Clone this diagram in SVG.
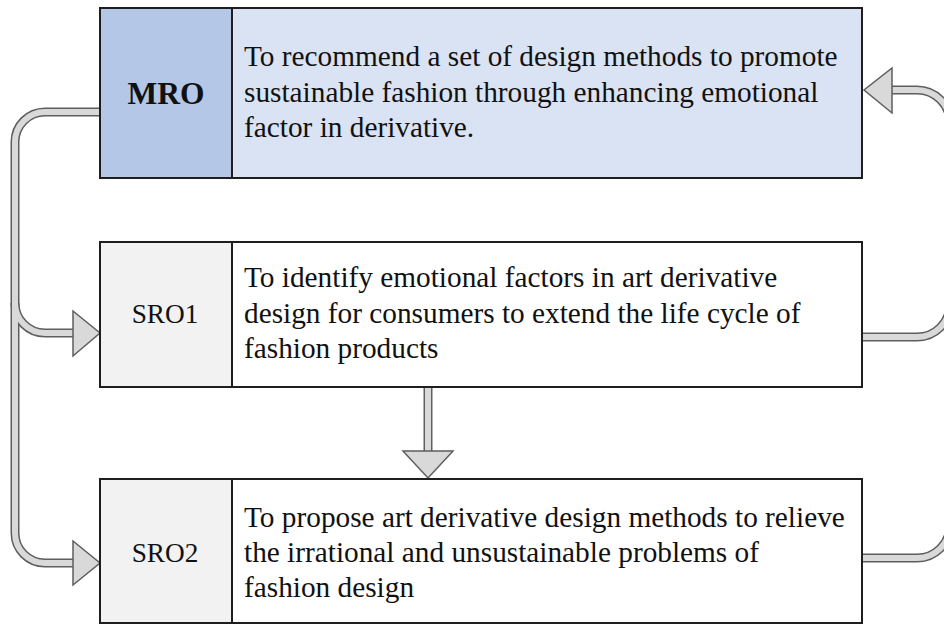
<svg xmlns="http://www.w3.org/2000/svg" width="944" height="624" viewBox="0 0 944 624">
<style>
.box{stroke:#1e1e1e;stroke-width:2}
.t{font-family:"Liberation Serif","Times New Roman",serif;font-size:29.3px;fill:#111}
.lbl{font-family:"Liberation Serif","Times New Roman",serif;font-size:27.3px;fill:#111;text-anchor:middle}
.big{font-size:31.5px;font-weight:bold}
.po{fill:none;stroke:#5e5e5e;stroke-width:9}
.pi{fill:none;stroke:#d9d9d9;stroke-width:6}
.ah{fill:#d9d9d9;stroke:#5e5e5e;stroke-width:1.5;stroke-linejoin:miter}
</style>
<rect width="944" height="624" fill="#ffffff"/>
<g id="connectors">
<path class="po" d="M100,112 H45 A30,30 0 0 0 15,142 V533 A30,30 0 0 0 45,563 H75"/>
<path class="po" d="M15,303 A30,30 0 0 0 45,333 H75"/>
<path class="po" d="M863,558 H917 A33,33 0 0 0 950,525 V123 A33,33 0 0 0 917,90 H892"/>
<path class="po" d="M863,337 H917 A33,33 0 0 0 950,304"/>
<path class="po" d="M428,387 V452"/>
<path class="pi" d="M100,112 H45 A30,30 0 0 0 15,142 V533 A30,30 0 0 0 45,563 H75"/>
<path class="pi" d="M15,303 A30,30 0 0 0 45,333 H75"/>
<path class="pi" d="M863,558 H917 A33,33 0 0 0 950,525 V123 A33,33 0 0 0 917,90 H892"/>
<path class="pi" d="M863,337 H917 A33,33 0 0 0 950,304"/>
<path class="pi" d="M428,386 V452"/>
<polygon class="ah" points="73,311 73,356 100,333"/>
<polygon class="ah" points="73,541 73,585 100,563"/>
<polygon class="ah" points="892,68 892,113 864,90"/>
<polygon class="ah" points="403,451 453,451 428,478"/>
</g>
<g id="MRO">
<rect class="box" x="100" y="8" width="132" height="170" fill="#b4c7e7"/>
<rect class="box" x="232" y="8" width="630" height="170" fill="#dae3f3"/>
<text class="lbl big" x="166" y="104">MRO</text>
<text class="t" x="244" y="66">To recommend a set of design methods to promote</text>
<text class="t" x="244" y="102">sustainable fashion through enhancing emotional</text>
<text class="t" x="244" y="137">factor in derivative.</text>
</g>
<g id="SRO1">
<rect class="box" x="100" y="242" width="132" height="145" fill="#f2f2f2"/>
<rect class="box" x="232" y="242" width="630" height="145" fill="#ffffff"/>
<text class="lbl" x="165" y="323">SRO1</text>
<text class="t" x="244" y="287">To identify emotional factors in art derivative</text>
<text class="t" x="244" y="323">design for consumers to extend the life cycle of</text>
<text class="t" x="244" y="358">fashion products</text>
</g>
<g id="SRO2">
<rect class="box" x="100" y="479" width="132" height="144" fill="#f2f2f2"/>
<rect class="box" x="232" y="479" width="630" height="144" fill="#ffffff"/>
<text class="lbl" x="165" y="562">SRO2</text>
<text class="t" x="244" y="527">To propose art derivative design methods to relieve</text>
<text class="t" x="244" y="562">the irrational and unsustainable problems of</text>
<text class="t" x="244" y="597">fashion design</text>
</g>
</svg>
